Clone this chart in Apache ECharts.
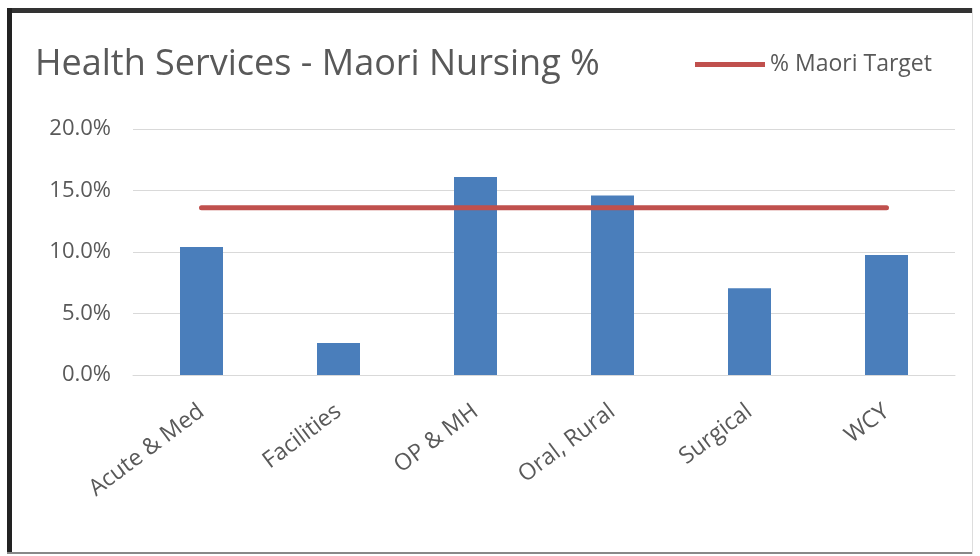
<!DOCTYPE html>
<html>
<head>
<meta charset="utf-8">
<script src="https://cdn.jsdelivr.net/npm/echarts@6/dist/echarts.min.js"></script>
<style>
  html, body { margin: 0; padding: 0; background: #fff; }
  #chart { width: 980px; height: 556px; }
</style>
</head>
<body>
<div id="chart"></div>
<script>
const categories = ['Acute & Med', 'Facilities', 'OP & MH', 'Oral, Rural', 'Surgical', 'WCY'];
const nursingPct = [10.4, 2.6, 16.1, 14.6, 7.05, 9.75];
const targetPct = [13.6, 13.6, 13.6, 13.6, 13.6, 13.6];
const titleText = 'Health Services - Maori Nursing %';
const targetName = '% Maori Target';

const chart = echarts.init(document.getElementById('chart'), null, { renderer: 'canvas' });
const FONT = 'Open Sans';
const GREY = '#595959';

chart.setOption({
  backgroundColor: '#ffffff',
  animation: false,
  title: {
    text: titleText,
    left: 30,
    top: 42,
    textStyle: { fontFamily: FONT, fontSize: 36, fontWeight: 'normal', color: GREY }
  },
  legend: {
    data: [{ name: targetName, icon: 'rect' }],
    left: 690,
    top: 48,
    itemWidth: 70,
    itemHeight: 5,
    textStyle: { fontFamily: FONT, fontSize: 23, color: GREY }
  },
  grid: { left: 133, right: 25, top: 129, bottom: 181 },
  xAxis: {
    type: 'category',
    data: categories,
    boundaryGap: true,
    axisLine: { lineStyle: { color: '#d9d9d9', width: 1 } },
    axisTick: { show: false },
    axisLabel: { interval: 0, rotate: 37, margin: 34, fontFamily: FONT, fontSize: 23, color: GREY }
  },
  yAxis: {
    type: 'value',
    min: 0,
    max: 20,
    interval: 5,
    axisLine: { show: false },
    axisTick: { show: false },
    splitLine: { lineStyle: { color: '#d9d9d9', width: 1 } },
    axisLabel: {
      margin: 22,
      fontFamily: FONT, fontSize: 22, color: GREY,
      formatter: v => v.toFixed(1) + '%'
    }
  },
  series: [
    {
      name: 'Maori Nursing %',
      type: 'bar',
      data: nursingPct,
      barWidth: 43,
      itemStyle: { color: '#4A7EBB' }
    },
    {
      name: targetName,
      type: 'line',
      data: targetPct,
      symbol: 'none',
      lineStyle: { color: '#C0504D', width: 5, cap: 'round' },
      itemStyle: { color: '#C0504D' }
    }
  ],
  graphic: [
    { type: 'rect', shape: { x: 7, y: 8, width: 966, height: 5 }, style: { fill: '#333333' }, silent: true },
    { type: 'rect', shape: { x: 7, y: 8, width: 5, height: 546 }, style: { fill: '#222222' }, silent: true },
    { type: 'rect', shape: { x: 7, y: 552, width: 966, height: 2 }, style: { fill: '#888888' }, silent: true },
    { type: 'rect', shape: { x: 972, y: 8, width: 1, height: 546 }, style: { fill: '#dddddd' }, silent: true }
  ]
});
</script>
</body>
</html>
